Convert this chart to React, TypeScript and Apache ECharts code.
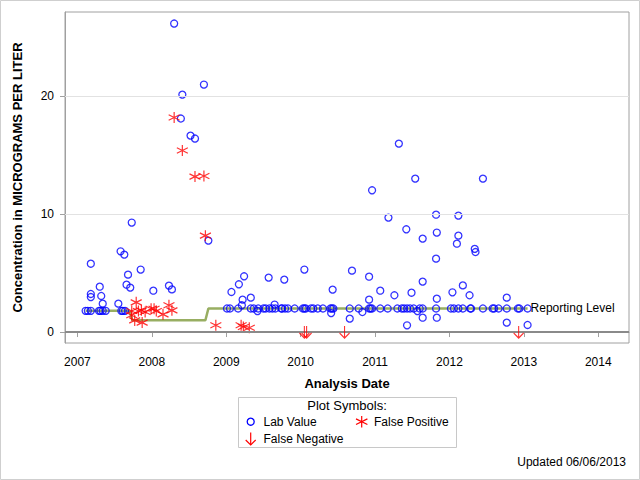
import React, { useEffect, useRef } from 'react';
import * as echarts from 'echarts';

// ---- Axis ticks ----
const xTickYears = [2007, 2008, 2009, 2010, 2011, 2012, 2013, 2014];
const yTickValues = [0, 10, 20];
const yGridValues = [10, 20];

// ---- Reporting level (date, level) ----
const reportingLevel: [number, number][] = [
  [2007.11, 1.8], [2007.70, 1.8], [2007.74, 1.0], [2008.72, 1.0], [2008.76, 2.0], [2013.05, 2.0],
];

// ---- Lab values (date, concentration) ----
const labEarly: [number, number][] = [
  [2007.11, 1.8], [2007.14, 1.8], [2007.18, 1.8], [2007.29, 1.8], [2007.31, 1.8], [2007.34, 1.8],
  [2007.38, 1.8], [2007.59, 1.8], [2007.61, 1.8], [2007.64, 1.8],
  [2007.18, 5.8], [2007.58, 6.85], [2007.63, 6.57], [2007.68, 4.87], [2007.85, 5.3], [2007.66, 4.02],
  [2007.71, 3.77], [2007.30, 3.85], [2007.18, 3.23], [2007.18, 2.97], [2007.32, 3.06], [2007.34, 2.41],
  [2007.55, 2.41], [2008.02, 3.51], [2008.23, 3.94], [2008.27, 3.62], [2007.73, 9.29],
  [2008.30, 26.18], [2008.70, 21.0], [2008.41, 20.15], [2008.39, 18.12], [2008.52, 16.67],
  [2008.58, 16.42], [2008.76, 7.76],
];
const labAtLevelDates: number[] = [
  2009.01, 2009.05, 2009.16, 2009.33, 2009.37, 2009.43, 2009.50, 2009.53, 2009.58, 2009.62, 2009.66,
  2009.74, 2009.75, 2009.79, 2009.83, 2009.92, 2010.03, 2010.05, 2010.07, 2010.14, 2010.17, 2010.23,
  2010.30, 2010.40, 2010.42, 2010.44, 2010.66, 2010.78, 2010.92, 2010.94, 2010.96, 2011.07, 2011.17,
  2011.30, 2011.36, 2011.39, 2011.43, 2011.47, 2011.52, 2011.60, 2011.64, 2011.82, 2012.02, 2012.06,
  2012.12, 2012.18, 2012.28, 2012.29, 2012.45, 2012.58, 2012.60, 2012.66, 2012.77, 2012.92, 2012.94,
  2013.05,
];
const labAtLevelValue = 2.0;
const labLater: [number, number][] = [
  [2009.07, 3.4], [2009.17, 4.05], [2009.24, 4.73], [2009.22, 2.75], [2009.33, 2.92], [2009.21, 2.27],
  [2009.42, 1.78], [2009.57, 4.62], [2009.78, 4.45], [2009.65, 2.33], [2010.05, 5.3], [2010.43, 3.6],
  [2010.41, 1.61], [2010.69, 5.21], [2010.66, 1.14], [2010.83, 1.7], [2010.92, 4.7], [2010.92, 2.75],
  [2011.07, 3.51], [2011.26, 3.12], [2010.96, 12.03], [2011.32, 15.99], [2011.54, 13.02],
  [2011.18, 9.71], [2011.82, 9.96], [2011.42, 8.72], [2011.83, 8.44], [2011.64, 7.93], [2011.82, 6.23],
  [2011.64, 4.28], [2011.49, 3.34], [2011.83, 2.83], [2011.43, 0.57], [2011.64, 1.22], [2011.57, 1.78],
  [2011.83, 1.22], [2012.45, 13.02], [2012.12, 9.88], [2012.12, 8.18], [2012.10, 7.5], [2012.34, 7.06],
  [2012.35, 6.79], [2012.18, 3.96], [2012.04, 3.37], [2012.27, 3.12], [2012.77, 2.92], [2012.77, 0.8],
  [2013.05, 0.6],
];

// ---- False positives (date, concentration) ----
const falsePositives: [number, number][] = [
  [2008.30, 18.2], [2008.41, 15.4], [2008.58, 13.19], [2008.70, 13.24], [2008.72, 8.18],
  [2007.79, 2.52], [2007.73, 1.78], [2007.82, 1.78], [2007.86, 1.84], [2007.77, 0.99], [2007.87, 0.8],
  [2007.99, 1.98], [2008.03, 1.98], [2008.06, 1.78], [2008.15, 1.5], [2008.23, 2.27], [2008.27, 1.84],
  [2007.91, 1.7], [2007.73, 1.42], [2008.86, 0.57], [2009.20, 0.57], [2009.23, 0.43], [2009.31, 0.37],
];

// ---- False negatives (date, concentration) ----
const falseNegatives: [number, number][] = [
  [2010.05, 0], [2010.08, 0], [2010.59, 0], [2012.93, 0],
];

const FONT = '"Liberation Sans", Arial, sans-serif';
const STAR_PATH = 'path://M6,0 L6,12 M0,3 L12,9 M0,9 L12,3';
const ARROW_PATH = 'path://M5,0 L5,12 M0,7 L5,12 L10,7';

export default function App() {
  const ref = useRef<HTMLDivElement>(null);

  useEffect(() => {
    if (!ref.current) return;
    const chart = echarts.init(ref.current, undefined, { renderer: 'svg' });

    const labAll = [
      ...labEarly,
      ...labAtLevelDates.map((d) => [d, labAtLevelValue] as [number, number]),
      ...labLater,
    ];

    const option: echarts.EChartsOption = {
      animation: false,
      backgroundColor: '#ffffff',
      grid: {
        left: 65,
        right: 11,
        top: 12,
        bottom: 137,
        show: true,
        borderColor: '#A0A0A0',
        borderWidth: 1,
      },
      xAxis: {
        type: 'value',
        min: 2006.833,
        max: 2014.413,
        name: 'Analysis Date',
        nameLocation: 'middle',
        nameGap: 34,
        nameTextStyle: { fontFamily: FONT, fontSize: 13, fontWeight: 'bold', color: '#000' },
        axisLine: { show: true, lineStyle: { color: '#A0A0A0' } },
        axisTick: { show: true, inside: false, length: 5, lineStyle: { color: '#A0A0A0' }, customValues: xTickYears } as any,
        axisLabel: {
          customValues: xTickYears,
          formatter: (v: number) => String(Math.round(v)),
          fontFamily: FONT,
          fontSize: 12,
          color: '#000',
          margin: 13,
        } as any,
        splitLine: { show: false },
      },
      yAxis: {
        type: 'value',
        min: -0.93,
        max: 27.16,
        name: 'Concentration in MICROGRAMS PER LITER',
        nameLocation: 'middle',
        nameGap: 41,
        nameTextStyle: { fontFamily: FONT, fontSize: 13, fontWeight: 'bold', color: '#000' },
        axisLine: { show: true, lineStyle: { color: '#A0A0A0' } },
        axisTick: { show: true, inside: false, length: 5, lineStyle: { color: '#A0A0A0' }, customValues: yTickValues } as any,
        axisLabel: {
          customValues: yTickValues,
          fontFamily: FONT,
          fontSize: 12,
          color: '#000',
          margin: 11,
        } as any,
        splitLine: { show: false },
      },
      series: [
        {
          name: 'Reference',
          type: 'line',
          data: [],
          silent: true,
          z: 1,
          markLine: {
            silent: true,
            symbol: ['none', 'none'],
            label: { show: false },
            emphasis: { disabled: true },
            data: [
              ...yGridValues.map((v) => ({ yAxis: v, lineStyle: { color: '#E2E2E2', width: 1, type: 'solid' as const } })),
              { yAxis: 0, lineStyle: { color: '#8A8A8A', width: 2, type: 'solid' as const } },
            ],
          },
        },
        {
          name: 'Reporting Level',
          type: 'line',
          data: reportingLevel,
          showSymbol: false,
          symbol: 'none',
          silent: true,
          z: 2,
          lineStyle: { color: '#98AE62', width: 2.5 },
          endLabel: {
            show: true,
            formatter: 'Reporting Level',
            fontFamily: FONT,
            fontSize: 12,
            color: '#000',
            distance: 3,
          },
        },
        {
          name: 'Lab Value',
          type: 'scatter',
          data: labAll,
          symbol: 'circle',
          symbolSize: 7,
          silent: true,
          z: 3,
          itemStyle: { color: 'rgba(0,0,0,0)', borderColor: '#0000FF', borderWidth: 1.3 },
        },
        {
          name: 'False Positive',
          type: 'scatter',
          data: falsePositives,
          symbol: STAR_PATH,
          symbolSize: 11,
          silent: true,
          z: 4,
          itemStyle: { color: 'rgba(0,0,0,0)', borderColor: '#FF0000', borderWidth: 1.2 },
        },
        {
          name: 'False Negative',
          type: 'scatter',
          data: falseNegatives,
          symbol: ARROW_PATH,
          symbolSize: [10, 12],
          silent: true,
          z: 5,
          itemStyle: { color: 'rgba(0,0,0,0)', borderColor: '#FF0000', borderWidth: 1.2 },
        },
      ],
      graphic: [
        {
          type: 'rect',
          silent: true,
          shape: { x: 0.5, y: 0.5, width: 639, height: 479 },
          style: { fill: 'none', stroke: '#CFCFCF', lineWidth: 1 },
        },
        {
          type: 'group',
          silent: true,
          children: [
            {
              type: 'rect',
              shape: { x: 238.5, y: 397.5, width: 218, height: 50 },
              style: { fill: 'none', stroke: '#C8C8C8', lineWidth: 1 },
            },
            {
              type: 'text',
              x: 347,
              y: 405.5,
              style: { text: 'Plot Symbols:', font: `13px ${FONT}`, fill: '#000', align: 'center', verticalAlign: 'middle' },
            },
            {
              type: 'circle',
              shape: { cx: 250.7, cy: 421.7, r: 3.5 },
              style: { fill: 'none', stroke: '#0000FF', lineWidth: 1.3 },
            },
            {
              type: 'text',
              x: 263.5,
              y: 422,
              style: { text: 'Lab Value', font: `12px ${FONT}`, fill: '#000', align: 'left', verticalAlign: 'middle' },
            },
            { type: 'line', shape: { x1: 361.7, y1: 416, x2: 361.7, y2: 427.4 }, style: { stroke: '#FF0000', lineWidth: 1.2 } },
            { type: 'line', shape: { x1: 356, y1: 418.9, x2: 367.4, y2: 424.5 }, style: { stroke: '#FF0000', lineWidth: 1.2 } },
            { type: 'line', shape: { x1: 356, y1: 424.5, x2: 367.4, y2: 418.9 }, style: { stroke: '#FF0000', lineWidth: 1.2 } },
            {
              type: 'text',
              x: 374,
              y: 422,
              style: { text: 'False Positive', font: `12px ${FONT}`, fill: '#000', align: 'left', verticalAlign: 'middle' },
            },
            { type: 'line', shape: { x1: 250.7, y1: 432.5, x2: 250.7, y2: 445 }, style: { stroke: '#FF0000', lineWidth: 1.2 } },
            {
              type: 'polyline',
              shape: { points: [[245.7, 440], [250.7, 445], [255.7, 440]] },
              style: { fill: 'none', stroke: '#FF0000', lineWidth: 1.2 },
            },
            {
              type: 'text',
              x: 263.5,
              y: 439,
              style: { text: 'False Negative', font: `12px ${FONT}`, fill: '#000', align: 'left', verticalAlign: 'middle' },
            },
          ],
        },
        {
          type: 'text',
          silent: true,
          x: 626,
          y: 462,
          style: { text: 'Updated 06/06/2013', font: `12px ${FONT}`, fill: '#000', align: 'right', verticalAlign: 'middle' },
        },
      ],
    };

    chart.setOption(option);
    return () => {
      chart.dispose();
    };
  }, []);

  return (
    <div
      ref={ref}
      style={{ position: 'absolute', left: 0, top: 0, width: 640, height: 480, background: '#fff' }}
    />
  );
}
